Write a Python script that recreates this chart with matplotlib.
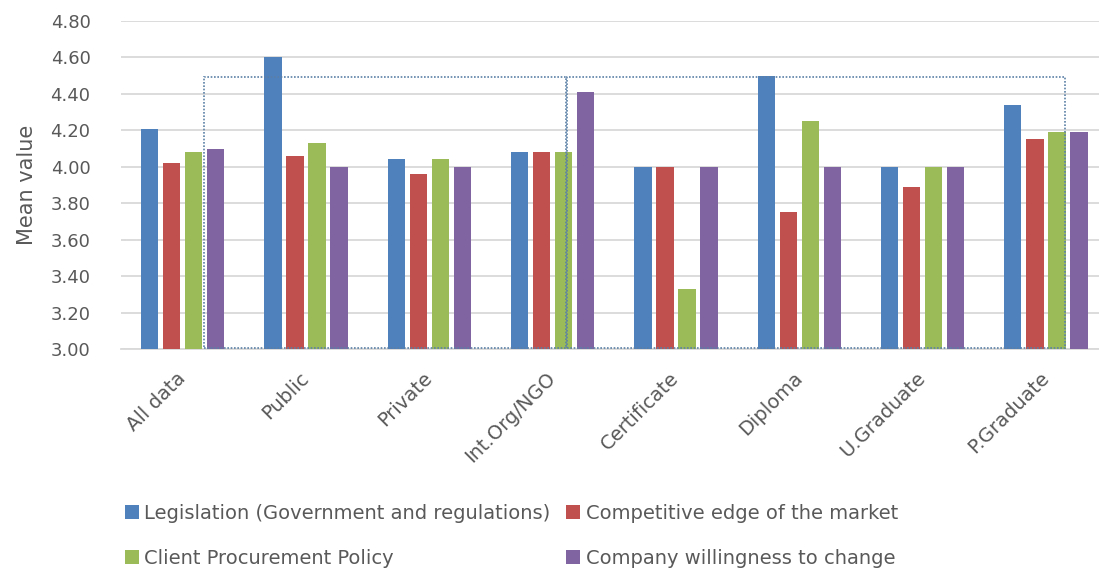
import numpy as np
import matplotlib
matplotlib.use("Agg")
import matplotlib.pyplot as plt
from matplotlib.patches import Rectangle

categories = ["All data", "Public", "Private", "Int.Org/NGO",
              "Certificate", "Diploma", "U.Graduate", "P.Graduate"]

legislation = [4.21, 4.60, 4.04, 4.08, 4.00, 4.50, 4.00, 4.34]
competitive = [4.02, 4.06, 3.96, 4.08, 4.00, 3.75, 3.89, 4.15]
procurement = [4.08, 4.13, 4.04, 4.08, 3.33, 4.25, 4.00, 4.19]
willingness = [4.10, 4.00, 4.00, 4.41, 4.00, 4.00, 4.00, 4.19]

series = [
    ("Legislation (Government and regulations)", legislation, "#4f81bd"),
    ("Competitive edge of the market", competitive, "#c0504d"),
    ("Client Procurement Policy", procurement, "#9bbb59"),
    ("Company willingness to change", willingness, "#8064a2"),
]

yticks = [3.00, 3.20, 3.40, 3.60, 3.80, 4.00, 4.20, 4.40, 4.60, 4.80]

text_color = "#595959"
grid_color = "#d9d9d9"

fig = plt.figure(figsize=(10.99, 5.72), dpi=100)
ax = fig.add_axes([121 / 1099, 1 - 349 / 572, 1 - 121 / 1099, (349 - 21) / 572])

x = np.arange(len(categories))
step = 0.179
width = 0.14
handles = {}
for i, (label, vals, color) in enumerate(series):
    offs = (i - 1.5) * step
    b = ax.bar(x + offs, np.array(vals) - 3.0, width, bottom=3.0,
               color=color, linewidth=0, label=label, zorder=3)
    handles[label] = b

ax.set_ylim(3.0, 4.8)
ax.set_xlim(-0.5, 7.43)
ax.set_yticks(yticks)
ax.set_yticklabels([f"{t:.2f}" for t in yticks], fontsize=13, color=text_color)
ax.yaxis.grid(True, color=grid_color, linewidth=1.3, zorder=0)
ax.tick_params(axis="y", length=0, pad=22)
ax.tick_params(axis="x", length=0, pad=19)
ax.set_xticks(x)
ax.set_xticklabels(categories, rotation=45, ha="right", va="center",
                   rotation_mode="anchor", fontsize=14, color=text_color)
for s in ["top", "right", "left"]:
    ax.spines[s].set_visible(False)
ax.spines["bottom"].set_color(grid_color)
ax.spines["bottom"].set_linewidth(1.3)
ax.set_ylabel("Mean value", fontsize=15, color=text_color, labelpad=10)

# dotted annotation boxes
box_style = dict(fill=False, edgecolor="#5b7fa6", linestyle=(0, (1, 1)),
                 linewidth=1.2, zorder=4, clip_on=False)
ax.add_patch(Rectangle((0.175, 3.007), 3.108 - 0.175, 4.494 - 3.007, **box_style))
ax.add_patch(Rectangle((3.119, 3.007), 7.156 - 3.119, 4.494 - 3.007, **box_style))

order = [series[0][0], series[2][0], series[1][0], series[3][0]]
fig.legend([handles[k] for k in order], order, ncol=2, frameon=False,
           loc="upper left", bbox_to_anchor=(125 / 1099, 1 - 504 / 572),
           fontsize=14, handlelength=0.7, handleheight=0.7, handletextpad=0.3,
           columnspacing=0.8, labelspacing=1.32, labelcolor=text_color,
           borderpad=0, borderaxespad=0)

fig.savefig("out.png", dpi=100)
